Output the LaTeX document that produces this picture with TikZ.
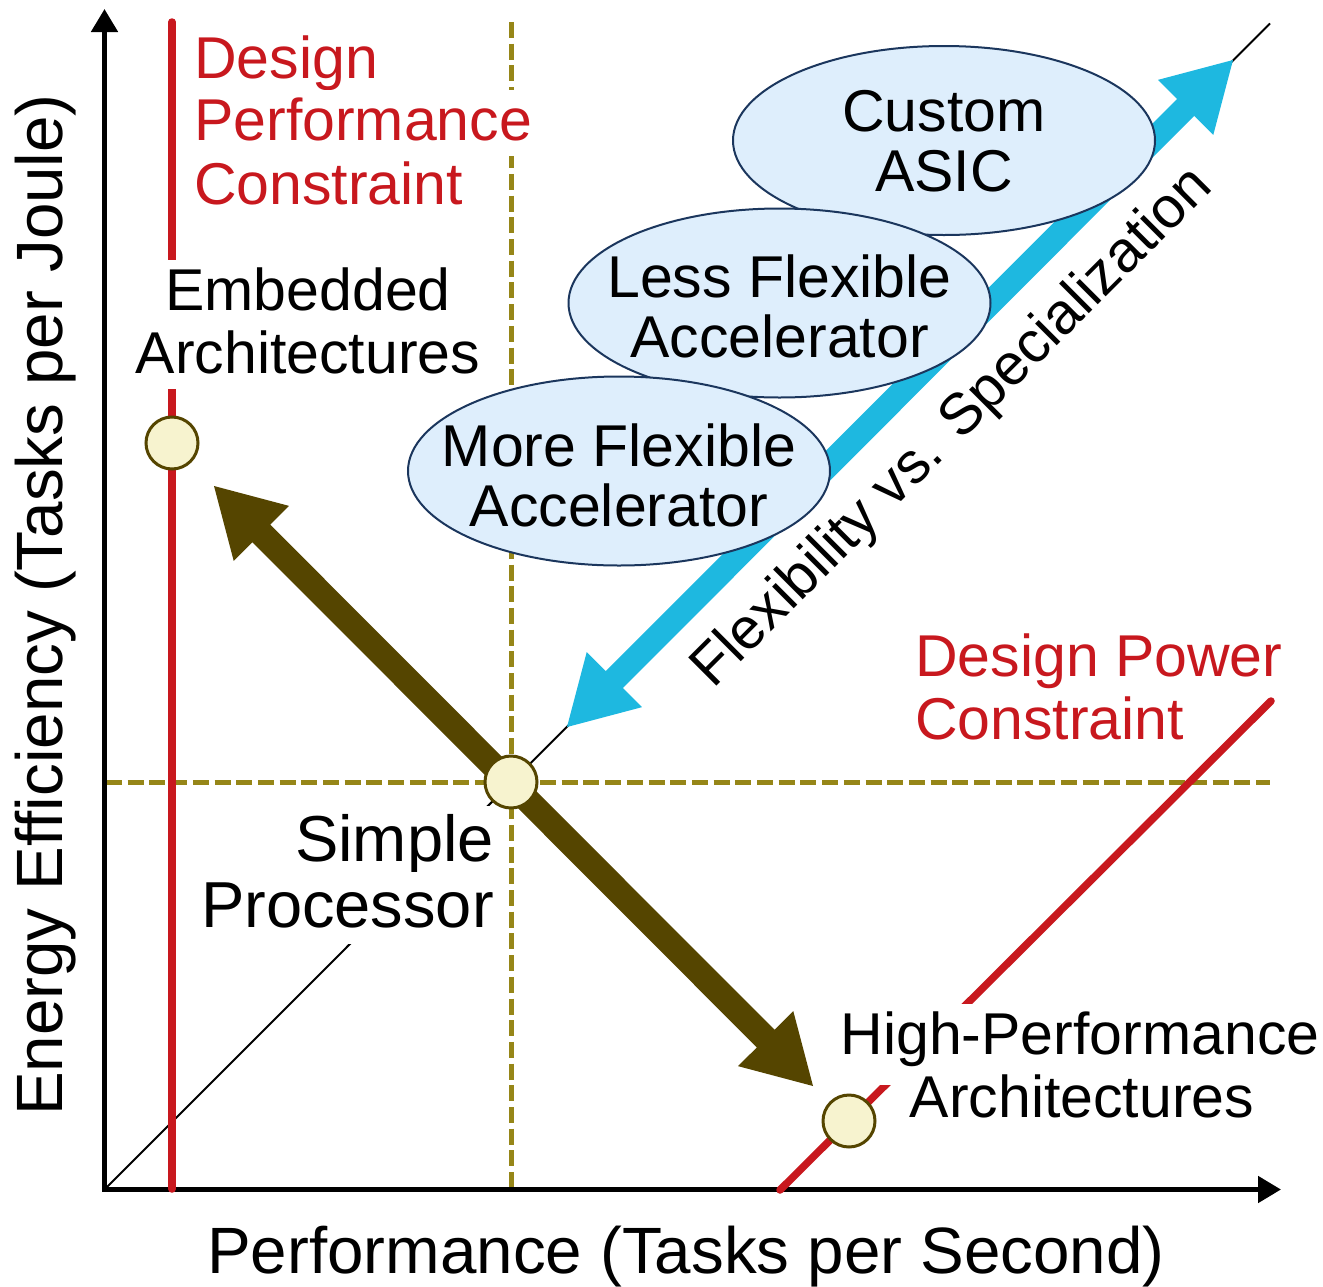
\documentclass[tikz,border=0pt]{standalone}
\usepackage{fontspec}
\setmainfont{Liberation Sans}
\usetikzlibrary{arrows.meta,calc,shapes.geometric}

\definecolor{cred}{RGB}{200,24,30}
\definecolor{cblue}{RGB}{30,184,224}
\definecolor{cbrown}{RGB}{85,69,0}
\definecolor{colive}{RGB}{150,134,24}
\definecolor{cdot}{RGB}{247,243,207}
\definecolor{cellfill}{RGB}{222,238,252}
\definecolor{cellline}{RGB}{27,54,93}

% head length and half head width of the block arrows
\def\ahlen{67pt}
\def\ahhalf{39pt}
% filled block arrow with a head at both ends:
% #1 first tip, #2 second tip, #3 half shaft width, #4 colour
\newcommand\blockarrow[4]{%
  \fill[#4] (#1)
    -- ($(#1)!\ahlen!(#2)!\ahhalf!90:(#2)$)
    -- ($(#1)!\ahlen!(#2)!#3!90:(#2)$)
    -- ($(#2)!\ahlen!(#1)!#3!-90:(#1)$)
    -- ($(#2)!\ahlen!(#1)!\ahhalf!-90:(#1)$)
    -- (#2)
    -- ($(#2)!\ahlen!(#1)!\ahhalf!90:(#1)$)
    -- ($(#2)!\ahlen!(#1)!#3!90:(#1)$)
    -- ($(#1)!\ahlen!(#2)!#3!-90:(#2)$)
    -- ($(#1)!\ahlen!(#2)!\ahhalf!-90:(#2)$)
    -- cycle;}

\begin{document}
\begin{tikzpicture}[x=1pt,y=-1pt,
  axisline/.style={line width=5pt, line join=miter},
  guide/.style={colive, line width=5pt, dash pattern=on 16pt off 5.7pt},
  redline/.style={cred, line width=7.5pt, line cap=round},
  thinline/.style={black, line width=2pt},
  boxtext/.style={font=\fontsize{59}{63}\selectfont, inner sep=3pt,
    text height=47pt, text depth=13pt, fill=white},
  bigboxtext/.style={boxtext, font=\fontsize{65}{66}\selectfont,
    text height=52pt, text depth=14pt},
  redtext/.style={boxtext, text=cred},
  axistext/.style={font=\fontsize{65.5}{70}\selectfont, inner sep=0pt},
  bubble/.style={ellipse, draw=cellline, line width=2pt, fill=cellfill,
    minimum width=422pt, minimum height=189pt, inner sep=0pt},
  bubbletext/.style={align=center, inner sep=0pt, font=\fontsize{59}{60}\selectfont},
  dot/.style={circle, draw=cbrown, line width=3pt, fill=cdot,
    minimum size=52pt, inner sep=0pt}]
\useasboundingbox[fill=white] (0,0) rectangle (1323,1286);

% key points
\coordinate (origin) at (104.5,1189.5);
\coordinate (ytip) at (104.5,9);
\coordinate (xtip) at (1281,1189.5);
\coordinate (diagend) at (1270,23.5);
\coordinate (vtop) at (511,22);
\coordinate (vbot) at (511,1187);
\coordinate (hleft) at (106,782);
\coordinate (hright) at (1270,782);
\coordinate (perftop) at (172,22);
\coordinate (perfbot) at (172,1189);
\coordinate (powlow) at (780,1190);
\coordinate (powhigh) at (1271,701);
\coordinate (blueA) at (567,727);
\coordinate (blueB) at (1233,60);
\coordinate (brownA) at (214,486);
\coordinate (brownB) at (813,1086);

% guide lines through the simple processor
\draw[guide] (vtop) -- (vbot);
\draw[guide] (hleft) -- (hright);

% iso-efficiency diagonal
\draw[thinline] (origin) -- (diagend);

% axes
\draw[axisline, {Triangle[length=23pt,width=26pt]}-{Triangle[length=23pt,width=26pt]}]
  (ytip) -- (origin) -- (xtip);

% constraint lines
\draw[redline] (perftop) -- (perfbot);
\draw[redline] (powlow) -- (powhigh);

% flexibility vs. specialization
\blockarrow{blueA}{blueB}{12pt}{cblue}

% accelerator classes
\node[bubble] (asic) at (944,140.5) {};
\node[bubbletext] (asictext) at ([yshift=-1pt]asic.center) {Custom\\ASIC};
\node[bubble] (less) at (779.5,303) {};
\node[bubbletext] (lesstext) at ([yshift=-3.5pt]less.center) {Less Flexible\\Accelerator};
\node[bubble] (more) at (619,471) {};
\node[bubbletext] (moretext) at ([yshift=-4pt]more.center) {More Flexible\\Accelerator};

% performance vs. efficiency trade-off
\blockarrow{brownA}{brownB}{12.5pt}{cbrown}

% design points
\node[dot] (embdot) at (172,443) {};
\node[dot] (simpdot) at (511,782) {};
\node[dot] (hpdot) at (849,1121) {};

% labels
\node[redtext, anchor=base west] (dpc1) at (191,78) {Design};
\node[redtext, anchor=base west] (dpc2) at (191,140) {Performance};
\node[redtext, anchor=base west] (dpc3) at (191,204) {Constraint};

\node[boxtext, anchor=base] (emb1) at (308,310) {Embedded};
\node[boxtext, anchor=base] (emb2) at (308,373) {Architectures};

\node[bigboxtext, anchor=base east] (simp1) at (497,861) {Simple};
\node[bigboxtext, anchor=base east] (simp2) at (497,927) {Processor};

\node[boxtext, anchor=base, text depth=28pt] (hp1) at (1080,1054) {High-Performance};
\node[boxtext, anchor=base] (hp2) at (1082,1117) {Architectures};

\node[redtext, anchor=base west] (dpw1) at (912,676) {Design Power};
\node[redtext, anchor=base west] (dpw2) at (912,739) {Constraint};

\node[font=\fontsize{58}{60}\selectfont, inner sep=0pt, rotate=45, anchor=base]
  (flex) at (964,439) {Flexibility vs. Specialization};

\node[axistext, anchor=base] (xlab) at (686,1273) {Performance (Tasks per Second)};
\node[axistext, anchor=base, rotate=90] (ylab) at (62,605) {Energy Efficiency (Tasks per Joule)};
\end{tikzpicture}
\end{document}
